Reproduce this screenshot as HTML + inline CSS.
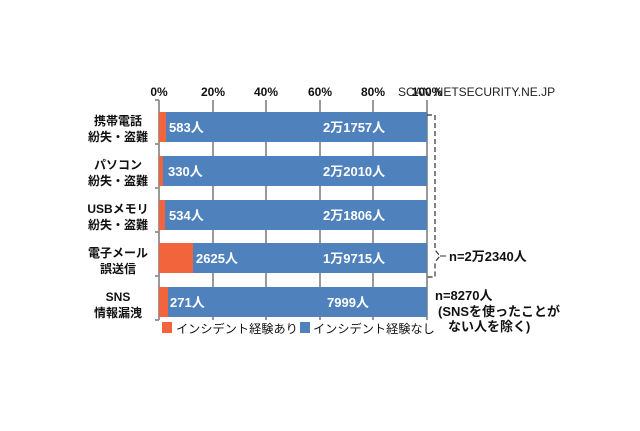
<!DOCTYPE html>
<html><head><meta charset="utf-8"><style>
body{margin:0;background:#fff;width:640px;height:426px;overflow:hidden;font-family:"Liberation Sans","Noto Sans CJK JP",sans-serif;}
</style></head><body>
<svg width="640" height="426" xmlns="http://www.w3.org/2000/svg" font-family="Liberation Sans, Noto Sans CJK JP, sans-serif">
<g stroke="#999" stroke-width="2">
<line x1="213" y1="100" x2="213" y2="320"/><line x1="266" y1="100" x2="266" y2="320"/>
<line x1="320" y1="100" x2="320" y2="320"/><line x1="373" y1="100" x2="373" y2="320"/>
<line x1="427" y1="100" x2="427" y2="320"/>
<line x1="159" y1="100" x2="159" y2="320"/>
<line x1="155" y1="100" x2="159" y2="100"/><line x1="155" y1="144" x2="159" y2="144"/><line x1="155" y1="188" x2="159" y2="188"/><line x1="155" y1="232" x2="159" y2="232"/><line x1="155" y1="276" x2="159" y2="276"/><line x1="155" y1="320" x2="159" y2="320"/>
</g>
<g font-size="12" font-weight="bold" fill="#111" text-anchor="middle">
<text x="159" y="96">0%</text><text x="213" y="96">20%</text><text x="266" y="96">40%</text><text x="320" y="96">60%</text><text x="373" y="96">80%</text><text x="427" y="96">100%</text>
</g>
<text x="398" y="96" font-size="12" fill="#222">SCAN NETSECURITY.NE.JP</text>
<g fill="#4f81bd">
<rect x="159" y="112" width="268" height="30"/><rect x="159" y="156" width="268" height="30"/><rect x="159" y="200" width="268" height="30"/><rect x="159" y="243" width="268" height="30"/><rect x="159" y="287" width="268" height="30"/>
</g>
<g fill="#f2643c">
<rect x="159" y="112" width="7" height="30"/><rect x="159" y="156" width="4" height="30"/><rect x="159" y="200" width="6" height="30"/><rect x="159" y="243" width="34" height="30"/><rect x="159" y="287" width="9" height="30"/>
</g>
<g font-size="13" font-weight="bold" fill="#fff">
<text x="169" y="132">583人</text><text x="168" y="176">330人</text><text x="169" y="220">534人</text><text x="196" y="263">2625人</text><text x="170" y="307">271人</text>
<text x="323" y="132">2万1757人</text><text x="323" y="176">2万2010人</text><text x="323" y="220">2万1806人</text><text x="323" y="263">1万9715人</text><text x="327" y="307">7999人</text>
</g>
<g font-size="12" font-weight="bold" fill="#111" text-anchor="middle">
<text x="118" y="125">携帯電話</text><text x="118" y="141">紛失・盗難</text>
<text x="118" y="169">パソコン</text><text x="118" y="185">紛失・盗難</text>
<text x="118" y="213">USBメモリ</text><text x="118" y="229">紛失・盗難</text>
<text x="118" y="257">電子メール</text><text x="118" y="273">誤送信</text>
<text x="118" y="301">SNS</text><text x="118" y="317">情報漏洩</text>
</g>
<path d="M427 115 H435 V250 L440 256 L435 262 V277 H427" fill="none" stroke="#333" stroke-width="1.2" stroke-dasharray="5,3"/>
<line x1="440" y1="256" x2="446" y2="256" stroke="#333"/>
<g font-size="13" font-weight="bold" fill="#111">
<text x="449" y="261">n=2万2340人</text>
<text x="435" y="300">n=8270人</text>
<text x="438" y="316">(SNSを使ったことが</text>
<text x="448" y="331">ない人を除く)</text>
</g>
<rect x="162" y="322" width="10" height="11" fill="#f2643c"/>
<text x="176" y="333" font-size="12.2" fill="#111">インシデント経験あり</text>
<rect x="300" y="322" width="10" height="11" fill="#4f81bd"/>
<text x="313" y="333" font-size="12.2" fill="#111">インシデント経験なし</text>
</svg>
</body></html>
